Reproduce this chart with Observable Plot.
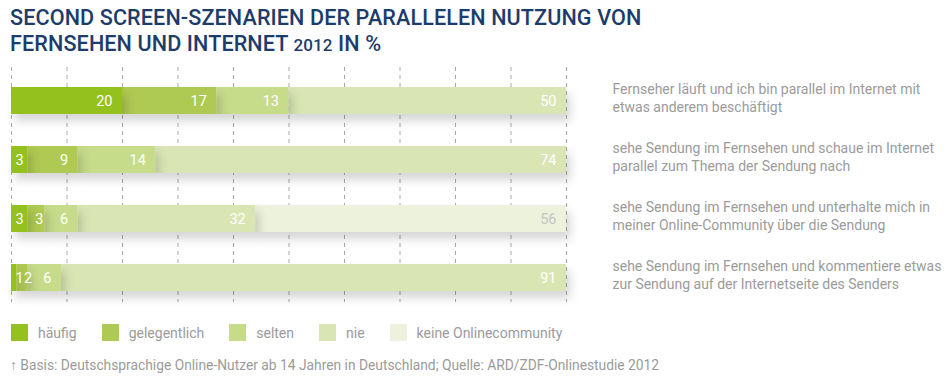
<!DOCTYPE html>
<html>
<head>
<meta charset="utf-8">
<script src="https://cdn.jsdelivr.net/npm/d3@7"></script>
<script src="https://cdn.jsdelivr.net/npm/@observablehq/plot@0.6"></script>
<style>
  html, body { margin: 0; padding: 0; background: #fff; }
  body { width: 948px; height: 385px; position: relative; overflow: hidden; font-family: Roboto, "Noto Sans", sans-serif; }
  #title { position: absolute; left: 10px; top: 5px; margin: 0; font-size: 21.6px; font-weight: 500; line-height: 26px; color: #1d3c6c; letter-spacing: 0.1px; }
  #title .num { font-size: 17px; }
  #chart { position: absolute; left: 0; top: 60px; }
  #legend { position: absolute; left: 11px; top: 324px; display: flex; align-items: center; font-size: 14px; color: #9b9b9b; }
  #legend .item { display: flex; align-items: center; margin-right: 25px; }
  #legend .sw { width: 17px; height: 17px; margin-right: 10px; }
  #footer { position: absolute; left: 10px; top: 357px; font-size: 13.8px; color: #9b9b9b; }
  g[aria-label="bar"] rect { filter: drop-shadow(4px 7px 5px rgba(0,0,0,0.16)); }
</style>
</head>
<body>
<div id="title">SECOND SCREEN-SZENARIEN DER PARALLELEN NUTZUNG VON<br>FERNSEHEN UND INTERNET <span class="num">2012</span> IN %</div>
<div id="chart"></div>
<div id="legend"></div>
<div id="footer">↑ Basis: Deutschsprachige Online-Nutzer ab 14 Jahren in Deutschland; Quelle: ARD/ZDF-Onlinestudie 2012</div>
<script>
const categories = [
  "Fernseher läuft und ich bin parallel im Internet mit\netwas anderem beschäftigt",
  "sehe Sendung im Fernsehen und schaue im Internet\nparallel zum Thema der Sendung nach",
  "sehe Sendung im Fernsehen und unterhalte mich in\nmeiner Online-Community über die Sendung",
  "sehe Sendung im Fernsehen und kommentiere etwas\nzur Sendung auf der Internetseite des Senders"
];
const series = ["häufig", "gelegentlich", "selten", "nie", "keine Onlinecommunity"];
const haeufig = [20, 3, 3, 1];
const gelegentlich = [17, 9, 3, 2];
const selten = [13, 14, 6, 6];
const nie = [50, 74, 32, 91];
const keineOnlinecommunity = [0, 0, 56, 0];
const gridTicks = [0, 10, 20, 30, 40, 50, 60, 70, 80, 90, 100];
const colors = ["#95c11f", "#afca52", "#c6dc8a", "#d9e6b4", "#ecf2dc"];
const labelColors = ["#ffffff", "#ffffff", "#ffffff", "#ffffff", "#c4c4c4"];

const seriesValues = [haeufig, gelegentlich, selten, nie, keineOnlinecommunity];
// reverse series order so left segments are drawn on top (their shadow falls on the next one)
const table = [];
for (let s = series.length - 1; s >= 0; s--) {
  categories.forEach((c, i) => {
    const v = seriesValues[s][i];
    if (v > 0) table.push({cat: c, series: series[s], value: v});
  });
}
const labelFill = d => labelColors[series.indexOf(d.series)];
const isFirst = d => d.series === series[0];

const chart = Plot.plot({
  width: 948,
  height: 250,
  marginLeft: 11,
  marginRight: 382,
  marginTop: 10,
  marginBottom: 3,
  style: {fontFamily: "Roboto, 'Noto Sans', sans-serif", background: "transparent"},
  x: {domain: [0, 100], axis: null},
  y: {domain: categories, axis: null, paddingInner: 0.545, paddingOuter: 0.2725},
  color: {domain: series, range: colors},
  marks: [
    Plot.ruleX(gridTicks, {x: d => d, stroke: "#a8a8a8", strokeWidth: 1, strokeDasharray: "4,4"}),
    Plot.barX(table, Plot.stackX({x: "value", y: "cat", fill: "series", order: series})),
    Plot.text(table, Plot.stackX2({
      x: "value", y: "cat", z: "series", order: series,
      text: d => d.value >= 5 ? String(d.value) : "",
      fill: labelFill, textAnchor: "end", dx: -10, fontSize: 14.5
    })),
    Plot.text(table, Plot.stackX1({
      x: "value", y: "cat", z: "series", order: series,
      text: d => d.value < 5 && isFirst(d) ? String(d.value) : "",
      fill: labelFill, textAnchor: "start", dx: 4, fontSize: 14.5
    })),
    Plot.text(table, Plot.stackX1({
      x: "value", y: "cat", z: "series", order: series,
      text: d => d.value < 5 && !isFirst(d) ? String(d.value) : "",
      fill: labelFill, textAnchor: "start", dx: 7, fontSize: 14.5
    })),
    Plot.text(categories, {
      x: () => 100, y: d => d, text: d => d,
      textAnchor: "start", dx: 46, dy: -4, fontSize: 14, fill: "#9b9b9b", lineHeight: 1.33
    })
  ]
});
// gridlines: run from the top of the plot to just below the last bar
chart.querySelectorAll('g[aria-label="rule"] line').forEach(l => {
  l.setAttribute("y1", 7);
  l.setAttribute("y2", 242);
});
document.getElementById("chart").appendChild(chart);

const legend = document.getElementById("legend");
series.forEach((s, i) => {
  const item = document.createElement("div");
  item.className = "item";
  const sw = document.createElement("div");
  sw.className = "sw";
  sw.style.background = colors[i];
  const lab = document.createElement("span");
  lab.textContent = s;
  item.appendChild(sw);
  item.appendChild(lab);
  legend.appendChild(item);
});
</script>
</body>
</html>
